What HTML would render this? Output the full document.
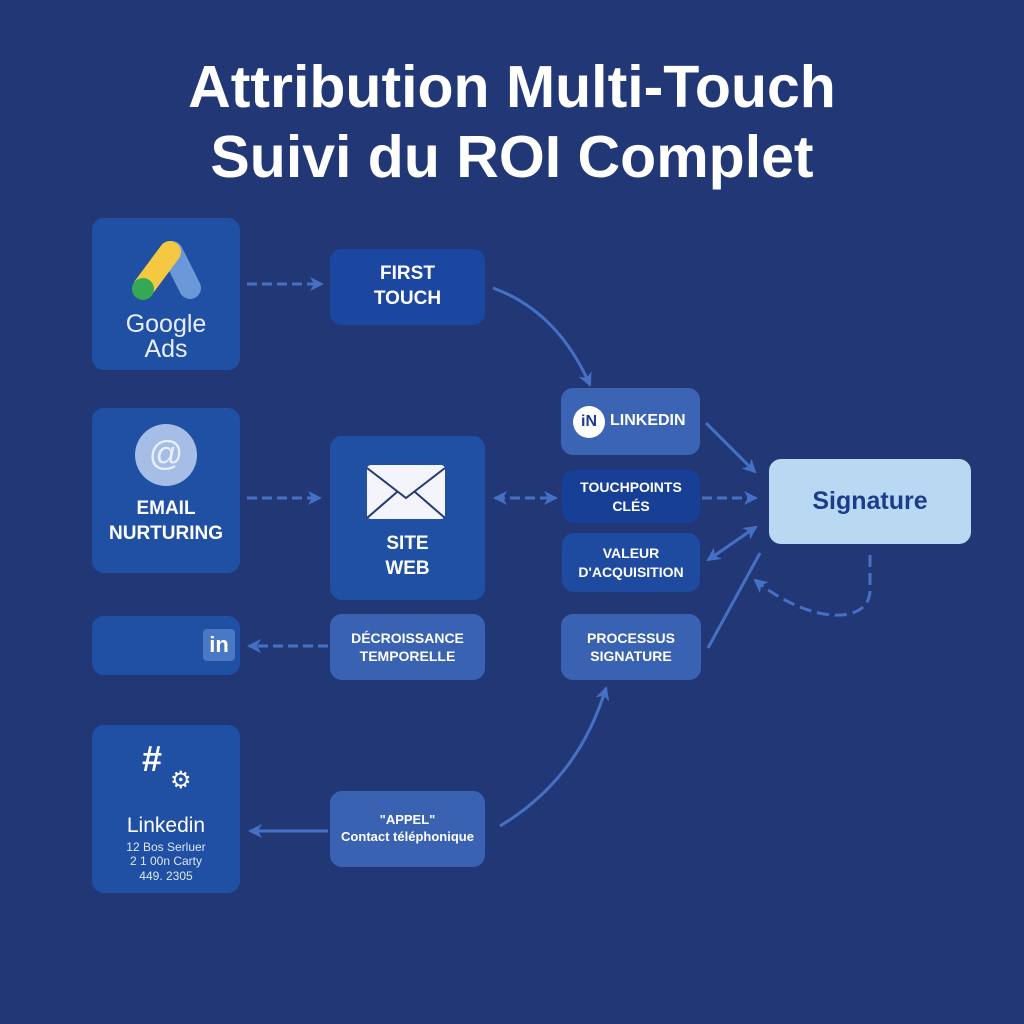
<!DOCTYPE html>
<html><head><meta charset="utf-8"><style>
html,body{margin:0;padding:0;}
body{width:1024px;height:1024px;background:#223876;position:relative;overflow:hidden;font-family:"Liberation Sans",sans-serif;}
.t{position:absolute;left:0;width:1024px;text-align:center;color:#fff;font-weight:bold;font-size:59px;line-height:70px;}
.b{position:absolute;border-radius:12px;color:#fff;font-weight:bold;display:flex;align-items:center;justify-content:center;text-align:center;font-size:17px;line-height:1.3;}
.tile{background:#2050a4;}
svg{position:absolute;left:0;top:0;}
</style></head><body>
<div class="t" style="top:52px">Attribution Multi-Touch</div>
<div class="t" style="top:122px">Suivi du ROI Complet</div>

<div class="b tile" style="left:92px;top:218px;width:148px;height:152px;"></div>
<div class="b" style="left:92px;top:312px;width:148px;font-size:25px;font-weight:normal;line-height:1;color:#e8eef8;">Google<br>Ads</div>
<div class="b" style="left:330px;top:249px;width:155px;height:76px;background:#1b47a0;font-size:19px;">FIRST<br>TOUCH</div>

<div class="b tile" style="left:92px;top:408px;width:148px;height:165px;"></div>
<div style="position:absolute;left:135px;top:424px;width:62px;height:62px;border-radius:50%;background:#a6bde6;color:#e8f0ff;font-size:34px;text-align:center;line-height:60px;">@</div>
<div class="b" style="left:92px;top:497px;width:148px;font-size:19px;">EMAIL<br>NURTURING</div>

<div class="b" style="left:330px;top:436px;width:155px;height:164px;background:#2050a4;"></div>
<div style="position:absolute;left:367px;top:465px;width:78px;height:54px;background:#f3f5fa;border-radius:4px;"></div>
<div class="b" style="left:330px;top:532px;width:155px;font-size:19px;">SITE<br>WEB</div>

<div class="b tile" style="left:92px;top:616px;width:148px;height:59px;"></div>
<div style="position:absolute;left:203px;top:629px;width:32px;height:32px;border-radius:4px;background:#4a78c4;color:#fff;font-weight:bold;font-size:22px;text-align:center;line-height:32px;">in</div>
<div class="b" style="left:330px;top:614px;width:155px;height:66px;background:#3a62b2;font-size:14px;">DÉCROISSANCE<br>TEMPORELLE</div>

<div class="b tile" style="left:92px;top:725px;width:148px;height:168px;"></div>
<div style="position:absolute;left:142px;top:738px;color:#fff;font-weight:bold;font-size:36px;">#</div>
<div style="position:absolute;left:170px;top:766px;color:#fff;font-size:24px;">⚙</div>
<div class="b" style="left:92px;top:815px;width:148px;font-size:21px;font-weight:normal;line-height:1;">Linkedin</div>
<div class="b" style="left:92px;top:840px;width:148px;font-size:12px;font-weight:normal;line-height:1.2;color:#dde6f5;">12 Bos Serluer<br>2 1 00n Carty<br>449. 2305</div>
<div class="b" style="left:330px;top:791px;width:155px;height:76px;background:#3a62b2;font-size:13px;">"APPEL"<br>Contact téléphonique</div>

<div class="b" style="left:561px;top:388px;width:139px;height:67px;background:#3c64b4;font-size:16px;justify-content:flex-start;"><span style="display:inline-block;width:32px;height:32px;border-radius:50%;background:#fff;color:#1e3c8c;font-size:16px;line-height:32px;margin:0 5px 0 12px;">iN</span>LINKEDIN</div>
<div class="b" style="left:562px;top:470px;width:138px;height:53px;background:#173f95;font-size:14px;">TOUCHPOINTS<br>CLÉS</div>
<div class="b" style="left:562px;top:533px;width:138px;height:59px;background:#1e4aa0;font-size:14px;">VALEUR<br>D'ACQUISITION</div>
<div class="b" style="left:561px;top:614px;width:140px;height:66px;background:#3a62b2;font-size:14px;">PROCESSUS<br>SIGNATURE</div>
<div class="b" style="left:769px;top:459px;width:202px;height:85px;background:#b9d8f2;color:#1e3c8c;font-size:25px;font-weight:bold;">Signature</div>

<svg width="1024" height="1024">
<defs>
<marker id="s" markerWidth="14" markerHeight="14" refX="12" refY="7" orient="auto-start-reverse" markerUnits="userSpaceOnUse"><path d="M0,0L14,7L0,14L4,7Z" fill="#4670c4"/></marker></defs>
<g stroke-linecap="round">
<line x1="172" y1="252" x2="190" y2="288" stroke="#6a98d8" stroke-width="22"/>
<line x1="170" y1="252" x2="144" y2="287" stroke="#f5c842" stroke-width="22"/>
<circle cx="143" cy="289" r="11" fill="#34a853"/>
</g>
<path d="M367,468 L406,498 L445,468 M367,518 L397,492 M445,518 L415,492" stroke="#243a78" stroke-width="2" fill="none"/>
<g stroke="#4670c4" stroke-width="3" fill="none">
<line x1="247" y1="284" x2="322" y2="284" stroke-dasharray="10,5" marker-end="url(#s)"/>
<line x1="247" y1="498" x2="320" y2="498" stroke-dasharray="10,5" marker-end="url(#s)"/>
<line x1="328" y1="646" x2="249" y2="646" stroke-dasharray="10,5" marker-end="url(#s)"/>
<line x1="328" y1="831" x2="250" y2="831" marker-end="url(#s)"/>
<path d="M493,288 C540,305 570,340 590,385" marker-end="url(#s)"/>
<line x1="495" y1="498" x2="556" y2="498" stroke-dasharray="10,5" marker-start="url(#s)" marker-end="url(#s)"/>
<line x1="706" y1="423" x2="755" y2="472" marker-end="url(#s)"/>
<line x1="702" y1="498" x2="756" y2="498" stroke-dasharray="10,5" marker-end="url(#s)"/>
<line x1="708" y1="560" x2="756" y2="527" marker-start="url(#s)" marker-end="url(#s)"/>
<line x1="708" y1="648" x2="760" y2="553"/>
<path d="M870,555 L870,590 C870,625 810,625 755,580" stroke-dasharray="12,6" marker-end="url(#s)"/>
<path d="M500,826 C560,790 590,740 606,688" marker-end="url(#s)"/>
</g>
</svg>
</body></html>
